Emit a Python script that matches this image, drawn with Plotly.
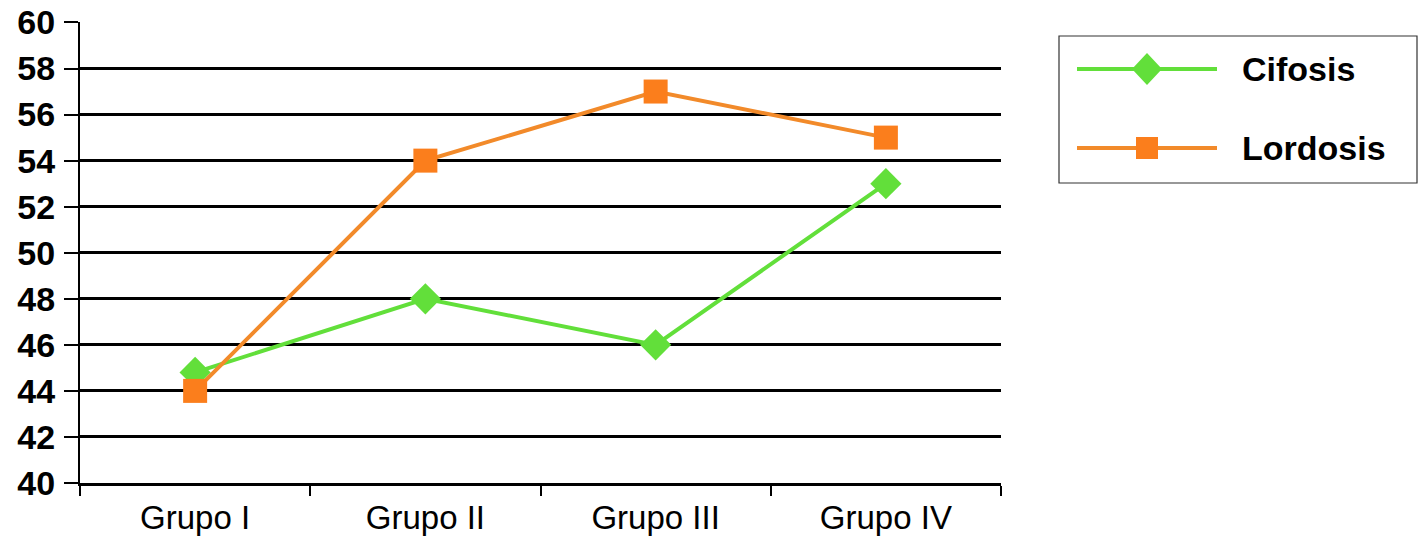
import plotly.graph_objects as go

categories = ["Grupo I", "Grupo II", "Grupo III", "Grupo IV"]
cifosis = [44.8, 48, 46, 53]
lordosis = [44, 54, 57, 55]
series_names = ["Cifosis", "Lordosis"]
y_ticks = list(range(40, 62, 2))

GREEN = "#62DF3A"
ORANGE_LINE = "#F28A2A"
ORANGE = "#FB7E1C"
FONT = "Arial, Liberation Sans, sans-serif"

W, H = 1419, 538
L, R, T, B = 80, 1001, 22, 483

fig = go.Figure()
fig.add_trace(go.Scatter(x=categories, y=cifosis, name=series_names[0], mode="lines+markers",
                         line=dict(color=GREEN, width=4),
                         marker=dict(symbol="diamond", size=24, color=GREEN),
                         showlegend=False))
fig.add_trace(go.Scatter(x=categories, y=lordosis, name=series_names[1], mode="lines+markers",
                         line=dict(color=ORANGE_LINE, width=4),
                         marker=dict(symbol="square", size=24, color=ORANGE),
                         showlegend=False))

def px(x):
    return (x - L) / (R - L)

def py(y):
    return (B - y) / (B - T)

shapes = []
annotations = []
shapes.append(dict(type="rect", xref="paper", yref="paper",
                   x0=px(1059), x1=px(1417), y0=py(183), y1=py(36),
                   line=dict(color="#333333", width=1.2), fillcolor="white"))
leg_rows = [(69, GREEN, GREEN, "diamond"), (148, ORANGE_LINE, ORANGE, "square")]
for name, (cy, lc, mc, sym) in zip(series_names, leg_rows):
    shapes.append(dict(type="line", xref="paper", yref="paper",
                       x0=px(1077), x1=px(1217), y0=py(cy), y1=py(cy),
                       line=dict(color=lc, width=4)))
    cx = 1147
    if sym == "diamond":
        pts = [(cx, cy - 16), (cx + 15, cy), (cx, cy + 16), (cx - 15, cy)]
        path = "M " + " L ".join(f"{px(a)},{py(b)}" for a, b in pts) + " Z"
        shapes.append(dict(type="path", xref="paper", yref="paper", path=path,
                           fillcolor=mc, line=dict(color=mc, width=0)))
    else:
        shapes.append(dict(type="rect", xref="paper", yref="paper",
                           x0=px(cx - 11), x1=px(cx + 11), y0=py(cy + 11), y1=py(cy - 11),
                           fillcolor=mc, line=dict(color=mc, width=0)))
    annotations.append(dict(xref="paper", yref="paper", x=px(1240), y=py(cy),
                            xanchor="left", yanchor="middle", text=name, showarrow=False,
                            font=dict(family=FONT, size=34, color="black", weight="bold")))

fig.update_layout(
    width=W, height=H,
    margin=dict(l=L, r=W - R, t=T, b=H - B, autoexpand=False),
    paper_bgcolor="white", plot_bgcolor="white",
    shapes=shapes, annotations=annotations,
    xaxis=dict(type="category", range=[-0.5, 3.5], tickson="boundaries",
               ticks="outside", ticklen=10, tickwidth=2, tickcolor="black",
               showgrid=False, showline=True, linecolor="black", linewidth=2.5,
               automargin=False, ticklabelstandoff=4,
               tickfont=dict(family=FONT, size=33, color="black")),
    yaxis=dict(range=[40, 60.02], tickvals=y_ticks, ticks="outside", ticklen=14,
               tickwidth=2, tickcolor="black", showgrid=True, gridcolor="black",
               gridwidth=2.5, zeroline=False, showline=True, linecolor="black", linewidth=2,
               automargin=False, ticklabelstandoff=2,
               tickfont=dict(family=FONT, size=34, color="black", weight="bold")),
)

fig.write_html("out.html", post_script="document.body.style.margin='0';",
               config={"displayModeBar": False})
